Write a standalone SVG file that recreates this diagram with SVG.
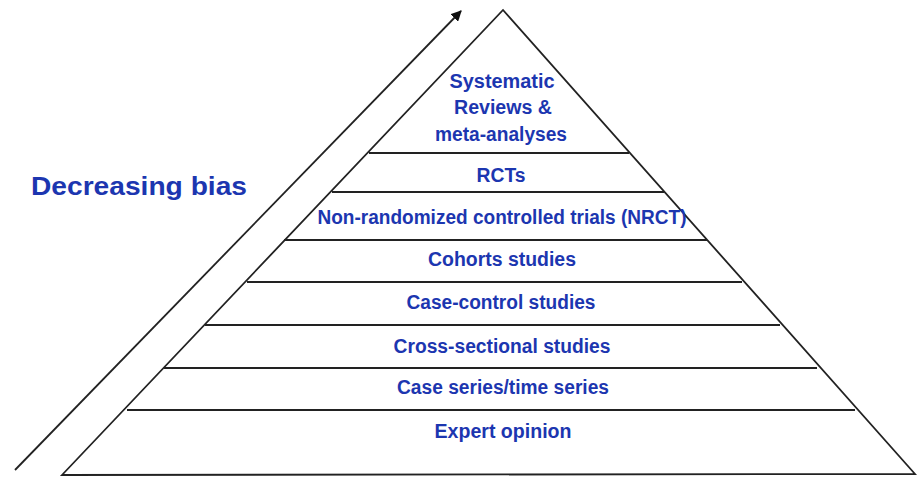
<svg xmlns="http://www.w3.org/2000/svg" width="917" height="477" viewBox="0 0 917 477">
<style>
.lbl{font-family:"Liberation Sans",Arial,sans-serif;font-weight:bold;font-size:19.5px;fill:#1c36b0;text-anchor:middle}
.title{font-family:"Liberation Sans",Arial,sans-serif;font-weight:bold;font-size:25px;fill:#1c36b0}
.edge{stroke:#222;stroke-width:1.8;fill:none}
</style>
<defs>
<marker id="ah" viewBox="0 0 10 10" refX="9" refY="5" markerWidth="6" markerHeight="6" orient="auto" markerUnits="strokeWidth">
<path d="M0,0 L10,5 L0,10 z" fill="#111"/>
</marker>
</defs>
<rect width="917" height="477" fill="#fff"/>
<g id="connectors">
<line x1="15" y1="470" x2="461" y2="11" stroke="#222" stroke-width="1.8" marker-end="url(#ah)"/>
</g>
<g id="pyramid">
<path class="edge" d="M62,475 L503,10 L915,474 Z"/>
<line class="edge" x1="369" y1="153" x2="629" y2="153"/>
<line class="edge" x1="332" y1="192" x2="664" y2="192"/>
<line class="edge" x1="284" y1="240" x2="707" y2="240"/>
<line class="edge" x1="247" y1="282" x2="742" y2="282"/>
<line class="edge" x1="205" y1="325" x2="780" y2="325"/>
<line class="edge" x1="164" y1="368" x2="817" y2="368"/>
<line class="edge" x1="127" y1="410" x2="855" y2="410"/>
</g>
<g id="title"><text class="title" x="31" y="195" textLength="216" lengthAdjust="spacingAndGlyphs">Decreasing bias</text></g>
<g id="level1">
<text class="lbl" x="502" y="88" textLength="105" lengthAdjust="spacingAndGlyphs">Systematic</text>
<text class="lbl" x="503" y="114" textLength="98" lengthAdjust="spacingAndGlyphs">Reviews &amp;</text>
<text class="lbl" x="501" y="141" textLength="132" lengthAdjust="spacingAndGlyphs">meta-analyses</text>
</g>
<g id="level2"><text class="lbl" x="501" y="182" textLength="49" lengthAdjust="spacingAndGlyphs">RCTs</text></g>
<g id="level3"><text class="lbl" x="502" y="224" textLength="369" lengthAdjust="spacingAndGlyphs">Non-randomized controlled trials (NRCT)</text></g>
<g id="level4"><text class="lbl" x="502" y="266" textLength="148" lengthAdjust="spacingAndGlyphs">Cohorts studies</text></g>
<g id="level5"><text class="lbl" x="501" y="309" textLength="189" lengthAdjust="spacingAndGlyphs">Case-control studies</text></g>
<g id="level6"><text class="lbl" x="502" y="353" textLength="217" lengthAdjust="spacingAndGlyphs">Cross-sectional studies</text></g>
<g id="level7"><text class="lbl" x="503" y="394" textLength="212" lengthAdjust="spacingAndGlyphs">Case series/time series</text></g>
<g id="level8"><text class="lbl" x="503" y="438" textLength="137" lengthAdjust="spacingAndGlyphs">Expert opinion</text></g>
</svg>
